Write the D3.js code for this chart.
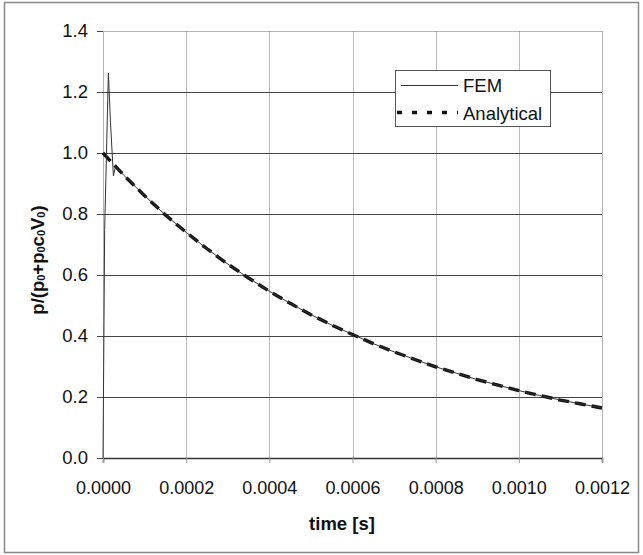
<!DOCTYPE html>
<html><head><meta charset="utf-8">
<script src="https://cdn.jsdelivr.net/npm/d3@7/dist/d3.min.js"></script>
<style>body{margin:0;background:#fff}svg{display:block}text{font-family:"Liberation Sans",Arial,sans-serif;fill:#111}</style>
</head><body><svg id="c" width="643" height="555"></svg>
<script>
// ---- data ----
const xTicks = [0, 0.0002, 0.0004, 0.0006, 0.0008, 0.0010, 0.0012];
const yTicks = [0, 0.2, 0.4, 0.6, 0.8, 1.0, 1.2, 1.4];
const analyticalT = [0, 0.00005, 0.0001, 0.00015, 0.0002, 0.00025, 0.0003, 0.00035, 0.0004, 0.00045, 0.0005, 0.00055, 0.0006, 0.00065, 0.0007, 0.00075, 0.0008, 0.00085, 0.0009, 0.00095, 0.0010, 0.00105, 0.0011, 0.00115, 0.0012];
const analyticalP = [1.0, 0.927, 0.860, 0.797, 0.740, 0.686, 0.636, 0.590, 0.547, 0.507, 0.470, 0.436, 0.405, 0.375, 0.348, 0.323, 0.299, 0.278, 0.257, 0.239, 0.221, 0.205, 0.190, 0.177, 0.164];
const femT = [0, 0.000004, 0.000013, 0.000018, 0.000025, 0.00003, 0.00005, 0.0001, 0.00015, 0.0002, 0.00025, 0.0003, 0.00035, 0.0004, 0.00045, 0.0005, 0.00055, 0.0006, 0.00065, 0.0007, 0.00075, 0.0008, 0.00085, 0.0009, 0.00095, 0.0010, 0.00105, 0.0011, 0.00115, 0.0012];
const femP = [0, 0.75, 1.262, 1.10, 0.925, 0.955, 0.927, 0.860, 0.797, 0.740, 0.686, 0.636, 0.590, 0.547, 0.507, 0.470, 0.436, 0.405, 0.375, 0.348, 0.323, 0.299, 0.278, 0.257, 0.239, 0.221, 0.205, 0.190, 0.177, 0.164];
const seriesNames = ["FEM", "Analytical"];

const svg = d3.select("#c");
const L = 103, R = 602, T = 31, B = 458;
const x = d3.scaleLinear().domain([0, 0.0012]).range([L, R]);
const y = d3.scaleLinear().domain([0, 1.4]).range([B, T]);

// outer frame
svg.append("rect").attr("x", 4.5).attr("y", 2.5).attr("width", 634).attr("height", 550)
  .attr("fill", "#fff").attr("stroke", "#888").attr("stroke-width", 1.5);

// vertical grid
svg.append("g").selectAll("line").data(xTicks.slice(1, -1)).join("line")
  .attr("x1", d => Math.round(x(d)) + 0.5).attr("x2", d => Math.round(x(d)) + 0.5)
  .attr("y1", T).attr("y2", B)
  .attr("stroke", "#bbb").attr("stroke-width", 1);
// horizontal grid
svg.append("g").selectAll("line").data(yTicks.slice(1, -1)).join("line")
  .attr("x1", L).attr("x2", R)
  .attr("y1", d => Math.round(y(d)) + 0.5).attr("y2", d => Math.round(y(d)) + 0.5)
  .attr("stroke", "#444").attr("stroke-width", 1.2);

// plot border (dotted)
svg.append("rect").attr("x", L + 0.5).attr("y", T + 0.5).attr("width", R - L).attr("height", B - T)
  .attr("fill", "none").attr("stroke", "#666").attr("stroke-width", 1).attr("stroke-dasharray", "1,1");

// axes
const yAxis = d3.axisLeft(y).tickValues(yTicks).tickFormat(d3.format(".1f")).tickSize(6).tickPadding(9);
const gy = svg.append("g").attr("transform", `translate(${L},0)`).call(yAxis);
gy.select(".domain").remove();
gy.selectAll("line").attr("stroke", "#444");
gy.selectAll("text").style("font-size", "18.5px").attr("fill", "#222");

const xAxis = d3.axisBottom(x).tickValues(xTicks).tickFormat(d3.format(".4f")).tickSize(5).tickPadding(18);
const gx = svg.append("g").attr("transform", `translate(0,${B})`).call(xAxis);
gx.select(".domain").attr("stroke", "#333").attr("stroke-width", 1.5);
gx.selectAll("line").attr("stroke", "#999");
gx.selectAll("text").style("font-size", "18px").attr("fill", "#222");

// lines
const lineA = d3.line().x((d, i) => x(analyticalT[i])).y(d => y(d));
const lineF = d3.line().x((d, i) => x(femT[i])).y(d => y(d));
svg.append("path").datum(analyticalP).attr("d", lineA).attr("fill", "none")
  .attr("stroke", "#111").attr("stroke-width", 3.4).attr("stroke-dasharray", "11,6");
svg.append("path").datum(femP).attr("d", lineF).attr("fill", "none")
  .attr("stroke", "#333").attr("stroke-width", 1);

// legend
const lg = svg.append("g");
lg.append("rect").attr("x", 395.5).attr("y", 70.5).attr("width", 155).attr("height", 56)
  .attr("fill", "#fff").attr("stroke", "#555").attr("stroke-width", 1);
lg.append("line").attr("x1", 401).attr("x2", 458).attr("y1", 85.5).attr("y2", 85.5).attr("stroke", "#333").attr("stroke-width", 1);
lg.append("line").attr("x1", 397).attr("x2", 458).attr("y1", 112.5).attr("y2", 112.5).attr("stroke", "#111").attr("stroke-width", 3.5).attr("stroke-dasharray", "5,10");
lg.selectAll("text").data(seriesNames).join("text")
  .attr("x", 463).attr("y", (d, i) => 92 + i * 27.5).style("font-size", "18.5px").text(d => d);

// axis titles
svg.append("text").attr("x", 342).attr("y", 530).attr("text-anchor", "middle")
  .style("font-size", "18.5px").style("font-weight", "bold").text("time [s]");
const yt = svg.append("text").attr("transform", "translate(44,260) rotate(-90)").attr("text-anchor", "middle")
  .style("font-size", "18.5px").style("font-weight", "bold");
const parts = [["p/(p", false], ["0", true], ["+p", false], ["0", true], ["c", false], ["0", true], ["V", false], ["0", true], [")", false]];
parts.forEach(([t, sub]) => {
  const ts = yt.append("tspan").text(t);
  if (sub) ts.style("font-size", "11px").attr("dy", 1);
  else ts.attr("dy", 0);
});
// reset dy after subscripts
yt.selectAll("tspan").each(function (d, i) {
  const s = parts[i][1];
  const prev = i > 0 ? parts[i - 1][1] : false;
  d3.select(this).attr("dy", s && !prev ? 1 : (!s && prev ? -1 : 0));
});
</script></body></html>
